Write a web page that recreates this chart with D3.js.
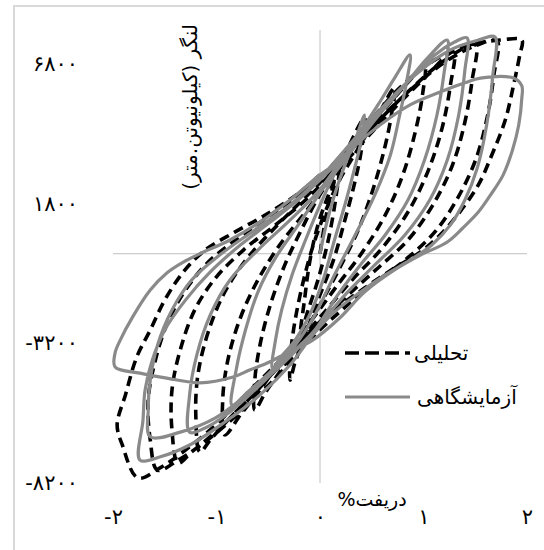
<!DOCTYPE html>
<html>
<head>
<meta charset="utf-8">
<script src="https://cdn.jsdelivr.net/npm/d3@7"></script>
<style>
  html, body { margin: 0; padding: 0; background: #fff; }
  svg { display: block; }
  text { font-family: "DejaVu Sans", "Noto Sans", sans-serif; fill: #000; }
</style>
</head>
<body>
<svg id="chart" width="544" height="550"></svg>
<script>
// Axis ticks
const driftTicks = [-2, -1, 0, 1, 2];
const momentTicks = [-8200, -3200, 1800, 6800];

// Series names (legend)
const seriesNames = ["تحلیلی", "آزمایشگاهی"];
const xTitle = "دریفت%";
const yTitle = "لنگر (کیلونیوتن.متر)";

// Analytical hysteresis, one array per cycle: [drift %, moment kN·m]
const analytical0 = [[0,0],[0.08,1740],[0.19,3170],[0.15,1920],[0.08,490],[-0.02,-940],[-0.12,-2080],[-0.19,-2910]];
const analytical1 = [[-0.15,-1660],[-0.10,-300],[-0.02,1030],[0.10,2280],[0.24,3530],[0.43,4860],[0.40,3710],[0.33,2460],[0.24,1200],[0.13,-230],[-0.02,-1660],[-0.16,-3090],[-0.24,-3870],[-0.29,-4520]];
const analytical2 = [[-0.28,-3440],[-0.24,-2370],[-0.17,-1120],[-0.08,130],[0.05,1490],[0.19,2640],[0.39,3890],[0.56,4960],[0.72,5930],[0.69,4960],[0.62,3710],[0.51,2280],[0.37,850],[0.19,-510],[0,-1830],[-0.19,-3090],[-0.39,-4230],[-0.53,-4980],[-0.63,-5590]];
const analytical3 = [[-0.63,-4520],[-0.58,-3270],[-0.48,-1830],[-0.34,-400],[-0.19,780],[-0.02,1990],[0.19,3170],[0.43,4350],[0.70,5500],[0.87,6210],[1.01,6750],[0.99,5680],[0.92,4350],[0.80,2820],[0.63,1380],[0.41,60],[0.17,-1120],[-0.08,-2370],[-0.34,-3620],[-0.58,-4870],[-0.77,-5770],[-0.92,-6480]];
const analytical4 = [[-0.94,-5230],[-0.89,-3800],[-0.77,-2300],[-0.60,-940],[-0.39,310],[-0.14,1490],[0.10,2640],[0.39,3890],[0.72,5210],[1.01,6280],[1.29,7210],[1.26,6030],[1.18,4500],[1.04,2920],[0.85,1490],[0.60,200],[0.31,-940],[0.02,-2190],[-0.29,-3520],[-0.60,-4870],[-0.89,-5950],[-1.06,-6660],[-1.16,-7090]];
const analytical5 = [[-1.20,-5770],[-1.18,-4340],[-1.08,-2800],[-0.92,-1370],[-0.70,-150],[-0.41,1030],[-0.12,2100],[0.14,3070],[0.48,4420],[0.87,5860],[1.21,6930],[1.50,7470],[1.47,6210],[1.40,4710],[1.28,3170],[1.09,1740],[0.85,490],[0.56,-510],[0.24,-1580],[-0.08,-2730],[-0.41,-4090],[-0.72,-5300],[-1.01,-6380],[-1.24,-7090],[-1.37,-7490]];
const analytical6 = [[-1.43,-6310],[-1.43,-4870],[-1.35,-3440],[-1.21,-2010],[-1.01,-870],[-0.74,130],[-0.43,1030],[-0.14,1920],[0.12,2920],[0.43,4250],[0.82,5680],[1.21,6860],[1.50,7430],[1.71,7610],[1.68,6390],[1.62,4960],[1.51,3420],[1.33,1990],[1.11,780],[0.82,-230],[0.50,-1120],[0.19,-2080],[-0.12,-3160],[-0.43,-4450],[-0.77,-5660],[-1.11,-6730],[-1.37,-7380],[-1.57,-7740]];
const analytical7 = [[-1.64,-6660],[-1.66,-5230],[-1.59,-3800],[-1.47,-2440],[-1.30,-1300],[-1.08,-300],[-0.79,560],[-0.48,1380],[-0.17,2210],[0.12,3170],[0.43,4500],[0.77,5930],[1.11,6930],[1.45,7470],[1.74,7640],[1.95,7640],[1.93,7110],[1.87,6030],[1.79,4780],[1.66,3530],[1.53,2460],[1.35,1490],[1.16,670],[0.97,60],[0.72,-510],[0.43,-1230],[0.14,-2010],[-0.14,-2910],[-0.43,-3980],[-0.72,-5050],[-1.01,-6130],[-1.30,-7020],[-1.55,-7670],[-1.76,-8020]];
const analytical8 = [[-1.91,-6840],[-1.96,-6130],[-1.88,-5050],[-1.77,-3690],[-1.64,-2730],[-1.50,-1660],[-1.32,-650],[-1.11,130],[-0.82,780],[-0.53,1380],[-0.19,2210],[0,2820]];

// Experimental hysteresis, one array per cycle: [drift %, moment kN·m]
const experimental1 = [[0,0],[0.06,1030],[0.14,2100],[0.24,3170],[0.34,4070],[0.43,4960],[0.40,4070],[0.33,2990],[0.24,1740],[0.14,490],[0.03,-940],[-0.10,-2190],[-0.24,-3090],[-0.37,-3660],[-0.46,-4090]];
const experimental2 = [[-0.43,-3090],[-0.37,-2010],[-0.27,-760],[-0.14,490],[0,1740],[0.16,2990],[0.34,4070],[0.56,5320],[0.72,6280],[0.87,7110],[0.84,6210],[0.77,4960],[0.68,3530],[0.53,2100],[0.34,670],[0.14,-760],[-0.05,-2190],[-0.24,-3270],[-0.48,-4230],[-0.70,-4950],[-0.85,-5410]];
const experimental3 = [[-0.81,-4160],[-0.72,-2730],[-0.60,-1370],[-0.43,-150],[-0.21,1030],[0.02,2280],[0.24,3350],[0.53,4780],[0.82,6030],[1.04,7000],[1.23,7640],[1.20,6500],[1.13,4960],[1.01,3350],[0.85,1920],[0.63,670],[0.39,-400],[0.17,-1480],[-0.05,-2730],[-0.29,-3620],[-0.58,-4700],[-0.87,-5660],[-1.11,-6230],[-1.26,-6380]];
const experimental4 = [[-1.26,-5050],[-1.19,-3620],[-1.06,-2190],[-0.87,-940],[-0.60,130],[-0.29,1200],[-0.02,2210],[0.21,3350],[0.50,4710],[0.82,6030],[1.11,7110],[1.30,7570],[1.42,7720],[1.40,6570],[1.34,4960],[1.23,3350],[1.06,1920],[0.82,670],[0.53,-400],[0.24,-1480],[-0.05,-2730],[-0.34,-3870],[-0.68,-4950],[-1.01,-5870],[-1.35,-6380],[-1.64,-6550]];
const experimental5 = [[-1.66,-5590],[-1.64,-4520],[-1.57,-3270],[-1.43,-2010],[-1.24,-940],[-0.97,-50],[-0.63,850],[-0.29,1740],[0,2710],[0.24,3710],[0.56,5070],[0.92,6390],[1.26,7290],[1.53,7640],[1.69,7750],[1.67,6390],[1.61,4600],[1.52,3070],[1.40,1920],[1.26,1030],[1.08,310],[0.87,-230],[0.63,-760],[0.39,-1370],[0.14,-2080],[-0.07,-2910],[-0.29,-3980],[-0.58,-5050],[-0.92,-6020],[-1.26,-6840],[-1.55,-7270],[-1.74,-7380]];
const experimental6 = [[-1.71,-5950],[-1.69,-4870],[-1.62,-3800],[-1.50,-2730],[-1.30,-1660],[-1.06,-650],[-0.77,310],[-0.48,1130],[-0.19,1990],[0.05,2820],[0.29,3710],[0.58,4600],[0.87,5320],[1.16,5780],[1.40,6110],[1.55,6280],[1.87,6280],[1.95,6000],[1.95,5570],[1.92,4600],[1.86,3710],[1.77,2820],[1.64,2060],[1.53,1490],[1.38,920],[1.23,420],[0.97,-50],[0.72,-580],[0.43,-1370],[0.19,-2300],[-0.07,-3090],[-0.32,-3550],[-0.51,-3910],[-0.68,-4160],[-0.84,-4410],[-1.16,-4620],[-1.48,-4450],[-1.74,-4270],[-1.98,-4050]];
const experimental7 = [[-1.98,-3550],[-1.93,-3090],[-1.81,-2260],[-1.64,-1300],[-1.48,-690],[-1.32,-300],[-1.16,0],[-0.87,490],[-0.58,1130],[-0.29,1920],[0,2820],[0.14,3170]];

const analyticalCycles = [analytical0, analytical1, analytical2, analytical3, analytical4, analytical5, analytical6, analytical7, analytical8];
const experimentalCycles = [experimental1, experimental2, experimental3, experimental4, experimental5, experimental6, experimental7];

// Extended Arabic-Indic (Persian) digits for the tick labels
const persianDigits = ["\u06F0","\u06F1","\u06F2","\u06F3","\u06F4","\u06F5","\u06F6","\u06F7","\u06F8","\u06F9"];
const toPersian = v => String(v).replace(/[0-9]/g, d => persianDigits[+d]);

const svg = d3.select("#chart");

// Outer chart frame
svg.append("rect")
  .attr("x", 14).attr("y", 6)
  .attr("width", 560).attr("height", 580)
  .attr("fill", "none")
  .attr("stroke", "#d9d9d9")
  .attr("stroke-width", 2);

const x = d3.scaleLinear().domain([-2, 2]).range([113, 527]);
const y = d3.scaleLinear().domain([-8200, 8000]).range([483, 30]);

// Axis lines through the origin
svg.append("line")
  .attr("x1", x(0)).attr("x2", x(0))
  .attr("y1", y.range()[1]).attr("y2", y.range()[0])
  .attr("stroke", "#c0c0c0").attr("stroke-width", 1);
svg.append("line")
  .attr("x1", x.range()[0]).attr("x2", x.range()[1])
  .attr("y1", y(0)).attr("y2", y(0))
  .attr("stroke", "#c0c0c0").attr("stroke-width", 1);

// Y tick labels (left)
const yAxis = d3.axisLeft(y).tickValues(momentTicks).tickFormat(toPersian).tickSize(0).tickPadding(0);
const gy = svg.append("g").attr("transform", "translate(78,0)").call(yAxis);
gy.select(".domain").remove();
gy.selectAll("text")
  .attr("font-size", 21)
  .attr("font-family", "DejaVu Sans, sans-serif")
  .attr("fill", "#000");

// X tick labels (bottom)
const xAxis = d3.axisBottom(x).tickValues(driftTicks).tickFormat(toPersian).tickSize(0).tickPadding(0);
const gx = svg.append("g").attr("transform", "translate(0,509)").call(xAxis);
gx.select(".domain").remove();
gx.selectAll("text")
  .attr("font-size", 21)
  .attr("font-family", "DejaVu Sans, sans-serif")
  .attr("fill", "#000");

const line = d3.line()
  .x(d => x(d[0]))
  .y(d => y(d[1]))
  .curve(d3.curveCatmullRom.alpha(0.5));

// Analytical (dashed black)
svg.append("path")
  .datum(analyticalCycles.flat())
  .attr("d", line)
  .attr("fill", "none")
  .attr("stroke", "#000")
  .attr("stroke-width", 3.6)
  .attr("stroke-dasharray", "10,6")
  .attr("stroke-linejoin", "round");

// Experimental (solid gray)
svg.append("path")
  .datum(experimentalCycles.flat())
  .attr("d", line)
  .attr("fill", "none")
  .attr("stroke", "#8a8a8a")
  .attr("stroke-width", 3.2)
  .attr("stroke-linejoin", "round");

// Axis titles
svg.append("text")
  .attr("x", 372).attr("y", 506)
  .attr("text-anchor", "middle")
  .attr("direction", "rtl")
  .attr("font-size", 19)
  .text(xTitle);

svg.append("text")
  .attr("transform", "translate(197,107) rotate(-90)")
  .attr("text-anchor", "middle")
  .attr("direction", "rtl")
  .attr("font-size", 20)
  .text(yTitle);

// Legend
const legend = svg.append("g");
legend.append("line")
  .attr("x1", 345).attr("x2", 410).attr("y1", 353).attr("y2", 353)
  .attr("stroke", "#000").attr("stroke-width", 3.6).attr("stroke-dasharray", "14,6");
legend.append("text")
  .attr("x", 414).attr("y", 360)
  .attr("font-size", 20)
  .text(seriesNames[0]);
legend.append("line")
  .attr("x1", 345).attr("x2", 410).attr("y1", 397).attr("y2", 397)
  .attr("stroke", "#8a8a8a").attr("stroke-width", 3.2);
legend.append("text")
  .attr("x", 417).attr("y", 404)
  .attr("font-size", 20)
  .text(seriesNames[1]);
</script>
</body>
</html>
